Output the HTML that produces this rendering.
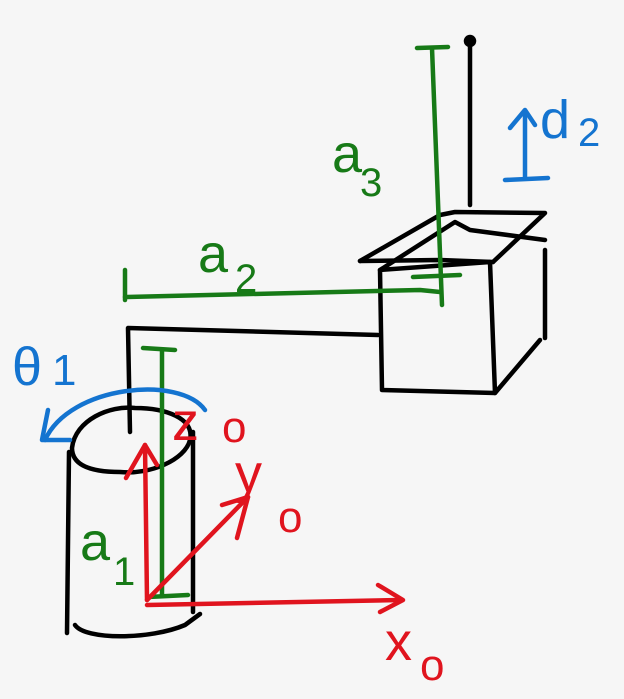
<!DOCTYPE html>
<html><head><style>
html,body{margin:0;padding:0;background:#f6f6f6;}
svg{display:block;}
text{font-family:"Liberation Sans",sans-serif;}
</style></head><body>
<svg width="624" height="699" viewBox="0 0 624 699" xmlns="http://www.w3.org/2000/svg">
<rect width="624" height="699" fill="#f6f6f6"/>
<g fill="none" stroke-linecap="round" stroke-linejoin="round" stroke-width="4.5">
<g stroke="#000">
<path d="M470 42 L470 205"/>
<circle cx="470" cy="41" r="4" fill="#000"/>
<path d="M360 261 L440 215 L455 212 L545 213 L493 262"/>
<path d="M360 261 L440 260 L493 262"/>
<path d="M380 270 L455 222 L470 230 L545 240"/>
<path d="M380 270 L490 262 L495 393 L382 390 L380 270"/>
<path d="M495 393 L540 340"/>
<path d="M545 250 L545 338"/>
<path d="M130 432 L128 328 L378 335"/>
<path d="M72 448 C75 420 110 405 135 408 C165 408 195 418 190 440 C185 460 150 475 120 472 C90 472 72 465 72 448 Z"/>
<path d="M69 452 L67 633"/>
<path d="M193 432 L193 612"/>
<path d="M75 625 C85 640 150 640 185 625 L200 614"/>
</g>
<g stroke="#177a17">
<path d="M417 48 L448 47"/>
<path d="M432 48 L442 305"/>
<path d="M413 277 L460 275"/>
<path d="M125 270 L125 300"/>
<path d="M125 297 L420 290 L440 292"/>
<path d="M143 348 L175 350"/>
<path d="M162 350 L162 596"/>
<path d="M148 597 L188 595"/>
</g>
<g stroke="#1474d0">
<path d="M525 112 L525 178"/>
<path d="M510 128 L525 110 L535 125"/>
<path d="M505 180 L548 178"/>
<path d="M45 440 C70 385 180 375 205 410"/>
<path d="M48 410 L42 440 L70 440"/>
</g>
<g stroke="#e0141e">
<path d="M147 600 L145 445"/>
<path d="M126 478 L145 445 L157 465"/>
<path d="M147 600 L248 497"/>
<path d="M222 505 L248 497 L237 538"/>
<path d="M147 605 L400 600"/>
<path d="M378 585 L403 600 L380 612"/>
</g>
</g>
<g font-size="54">
<text x="332" y="172" fill="#177a17">a</text><text x="360" y="196" fill="#177a17" font-size="40">3</text>
<text x="198" y="272" fill="#177a17">a</text><text x="235" y="292" fill="#177a17" font-size="40">2</text>
<text x="80" y="560" fill="#177a17">a</text><text x="113" y="585" fill="#177a17" font-size="40">1</text>
<text x="540" y="138" fill="#1474d0">d</text><text x="578" y="146" fill="#1474d0" font-size="40">2</text>
<text x="12" y="385" fill="#1474d0">θ</text><text x="52" y="385" fill="#1474d0" font-size="44">1</text>
<text x="172" y="440" fill="#e0141e">z</text><text x="222" y="442" fill="#e0141e" font-size="44">o</text>
<text x="235" y="492" fill="#e0141e">y</text><text x="278" y="532" fill="#e0141e" font-size="44">o</text>
<text x="385" y="660" fill="#e0141e">x</text><text x="420" y="680" fill="#e0141e" font-size="44">o</text>
</g>
</svg>
</body></html>
